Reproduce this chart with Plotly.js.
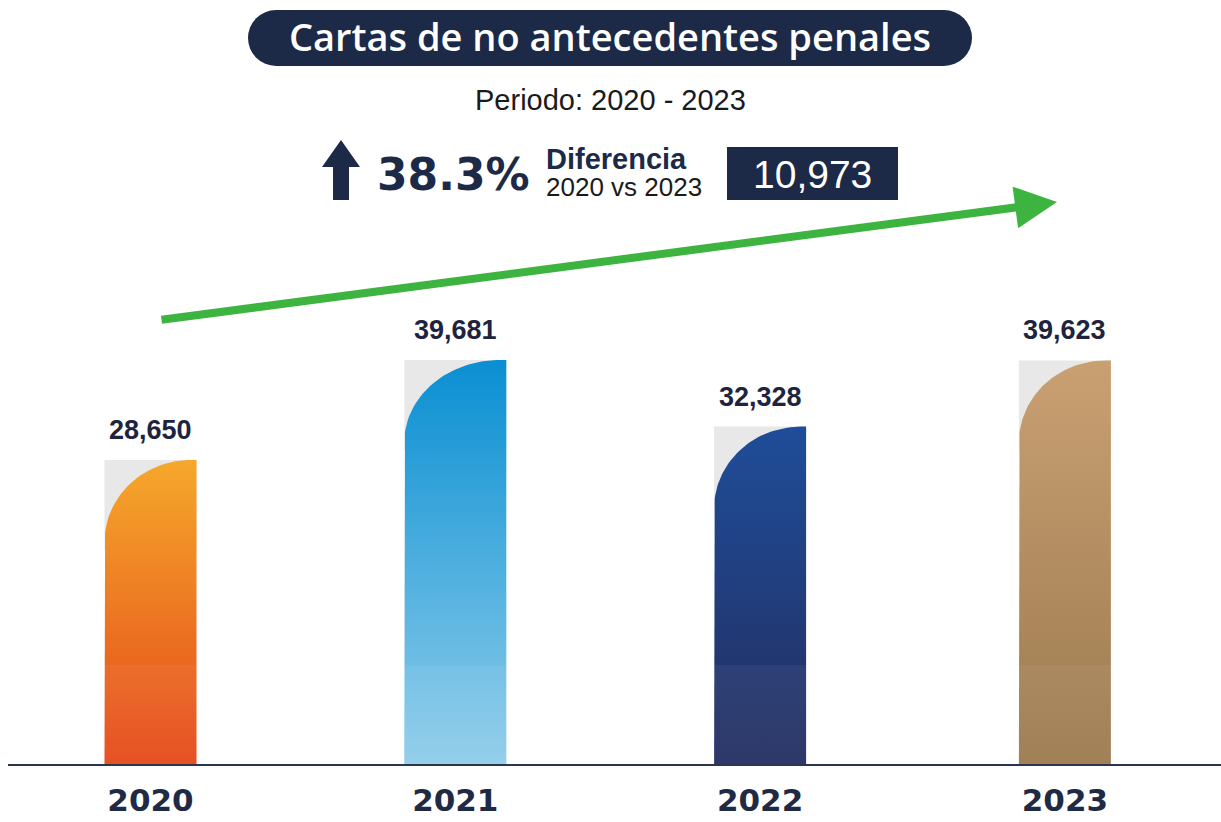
<!DOCTYPE html>
<html>
<head>
<meta charset="utf-8">
<script src="https://cdn.plot.ly/plotly-3.0.1.min.js"></script>
<style>html,body{margin:0;padding:0;background:#fff;}#chart{width:1221px;height:822px;}</style>
</head>
<body>
<div id="chart"></div>
<script>
// ---- data ----
const years = ['2020', '2021', '2022', '2023'];
const cartas = [28650, 39681, 32328, 39623];
const titleText = 'Cartas de no antecedentes penales';
const periodText = 'Periodo: 2020 - 2023';
const diffLabel = 'Diferencia';
const diffSub = '2020 vs 2023';

// ---- styles ----
const topColors = ['#f5a82b', '#0a8fd2', '#1f4d99', '#c9a072'];
const bottomColors = ['#e5481a', '#8fcdea', '#232e60', '#9c7a50'];
const barWidthPx = [92, 102, 92, 92];
const NAVY = '#1c2a48';

// ---- geometry helpers (layout) ----
const W = 1221, H = 822, BASE = 764, L = 8;
const PW = W - L;
const PX = x => (x - L) / PW;
const PY = y => (BASE - y) / BASE;
const pxPerUnit = 0.009066;
const yMin = -4886;
const yMax = yMin + BASE / pxPerUnit;
const unitPx = 304.8;
const xMin = -(150.5 - L) / unitPx;
const xMax = xMin + PW / unitPx;
const ry = 82 / pxPerUnit;

const traces = [];
const shapes = [];
const annotations = [];

years.forEach((yr, i) => {
  const halfW = barWidthPx[i] / 2 / unitPx;
  const left = i - halfW, right = i + halfW, top = cartas[i];
  // ghost grey rectangle behind rounded corner
  traces.push({
    type: 'scatter', mode: 'lines', x: [left, right, right, left, left],
    y: [top, top, top - ry * 1.1, top - ry * 1.1, top],
    fill: 'toself', fillcolor: '#e8e8e8', line: {width: 0},
    hoverinfo: 'skip', showlegend: false
  });
  // bar with rounded top-left corner
  const rx = 0.94 * (right - left);
  const cx = left + rx, cy = top - ry;
  const bx = [left], by = [yMin];
  for (let k = 0; k <= 40; k++) {
    const t = (Math.PI / 2) * k / 40;
    bx.push(cx - rx * Math.cos(t));
    by.push(cy + ry * Math.sin(t));
  }
  bx.push(right, right, left);
  by.push(top, yMin, yMin);
  traces.push({
    type: 'scatter', mode: 'lines', x: bx, y: by,
    fill: 'toself', line: {width: 0},
    fillgradient: {type: 'vertical', start: yMin, stop: top,
      colorscale: [[0, bottomColors[i]], [1, topColors[i]]]},
    hoverinfo: 'skip', showlegend: false
  });
  // lighter lower band
  shapes.push({type: 'rect', xref: 'x', yref: 'paper', x0: left, x1: right,
    y0: 0, y1: PY(665), fillcolor: 'rgba(255,255,255,0.05)', line: {width: 0}, layer: 'above'});
  // value label
  annotations.push({xref: 'x', yref: 'y', x: i, y: top, yanchor: 'middle', yshift: 30,
    text: top.toLocaleString('en-US'), showarrow: false,
    font: {family: 'Liberation Sans, Arial', size: 27, color: '#1e2440', weight: 700}});
});

// title pill
shapes.push({type: 'rect', xref: 'paper', yref: 'paper', x0: PX(276), x1: PX(944), y0: PY(66), y1: PY(10),
  fillcolor: NAVY, line: {width: 0}});
shapes.push({type: 'circle', xref: 'paper', yref: 'paper', x0: PX(248), x1: PX(304), y0: PY(66), y1: PY(10),
  fillcolor: NAVY, line: {width: 0}});
shapes.push({type: 'circle', xref: 'paper', yref: 'paper', x0: PX(916), x1: PX(972), y0: PY(66), y1: PY(10),
  fillcolor: NAVY, line: {width: 0}});
// up arrow icon
const up = [[341,140],[322,167],[333,167],[333,200],[349,200],[349,167],[360,167]];
shapes.push({type: 'path', xref: 'paper', yref: 'paper',
  path: 'M' + up.map(p => PX(p[0]).toFixed(5) + ',' + PY(p[1]).toFixed(5)).join('L') + 'Z',
  fillcolor: NAVY, line: {width: 0}});
// difference box
shapes.push({type: 'rect', xref: 'paper', yref: 'paper', x0: PX(727), x1: PX(898), y0: PY(200), y1: PY(147),
  fillcolor: NAVY, line: {width: 0}});

const diff = cartas[cartas.length - 1] - cartas[0];
const pct = (diff / cartas[0] * 100).toFixed(1) + '%';

annotations.push(
  {xref: 'paper', yref: 'paper', x: PX(610), y: PY(100), text: periodText, showarrow: false,
   xanchor: 'center', yanchor: 'middle',
   font: {family: 'Liberation Sans, Arial', size: 29, color: '#1a1a1a'}},
  {xref: 'paper', yref: 'paper', x: PX(375), y: PY(174), text: pct, showarrow: false,
   xanchor: 'left', yanchor: 'middle',
   font: {family: 'DejaVu Sans', size: 44, color: NAVY, weight: 700}},
  {xref: 'paper', yref: 'paper', x: PX(544), y: PY(159), text: diffLabel, showarrow: false,
   xanchor: 'left', yanchor: 'middle',
   font: {family: 'Liberation Sans, Arial', size: 29, color: NAVY, weight: 700}},
  {xref: 'paper', yref: 'paper', x: PX(544), y: PY(187), text: diffSub, showarrow: false,
   xanchor: 'left', yanchor: 'middle',
   font: {family: 'Liberation Sans, Arial', size: 26, color: '#1a1a1a'}},
  {xref: 'paper', yref: 'paper', x: PX(812), y: PY(174), text: diff.toLocaleString('en-US'), showarrow: false,
   xanchor: 'center', yanchor: 'middle',
   font: {family: 'Liberation Sans, Arial', size: 39, color: '#ffffff'}},
  // green trend arrow
  {xref: 'paper', yref: 'paper', x: PX(1057), y: PY(202), ax: 160 - 1057, ay: 320 - 202,
   axref: 'pixel', ayref: 'pixel', text: '', showarrow: true,
   arrowhead: 2, arrowsize: 1.05, arrowwidth: 8, arrowcolor: '#3db43f'}
);

const layout = {
  width: W, height: H,
  margin: {l: L, r: 0, t: 0, b: H - BASE, pad: 0},
  paper_bgcolor: '#ffffff', plot_bgcolor: '#ffffff',
  showlegend: false,
  title: {text: titleText, x: 610 / W, xref: 'container', xanchor: 'center', y: 1 - 38 / H, yref: 'container', yanchor: 'middle',
    font: {family: 'Open Sans', size: 38, color: '#ffffff', weight: 600}},
  xaxis: {range: [xMin, xMax], tickvals: years.map((_, i) => i), ticktext: years,
    showgrid: false, zeroline: false, showline: true, linecolor: '#2b3552', linewidth: 2,
    ticks: '', ticklabelstandoff: 8,
    tickfont: {family: 'DejaVu Sans', size: 31, color: '#1f2a44', weight: 700}, fixedrange: true},
  yaxis: {range: [yMin, yMax], visible: false, showgrid: false, zeroline: false, fixedrange: true},
  shapes: shapes,
  annotations: annotations
};

Plotly.newPlot('chart', traces, layout, {displayModeBar: false, staticPlot: true});
</script>
</body>
</html>
